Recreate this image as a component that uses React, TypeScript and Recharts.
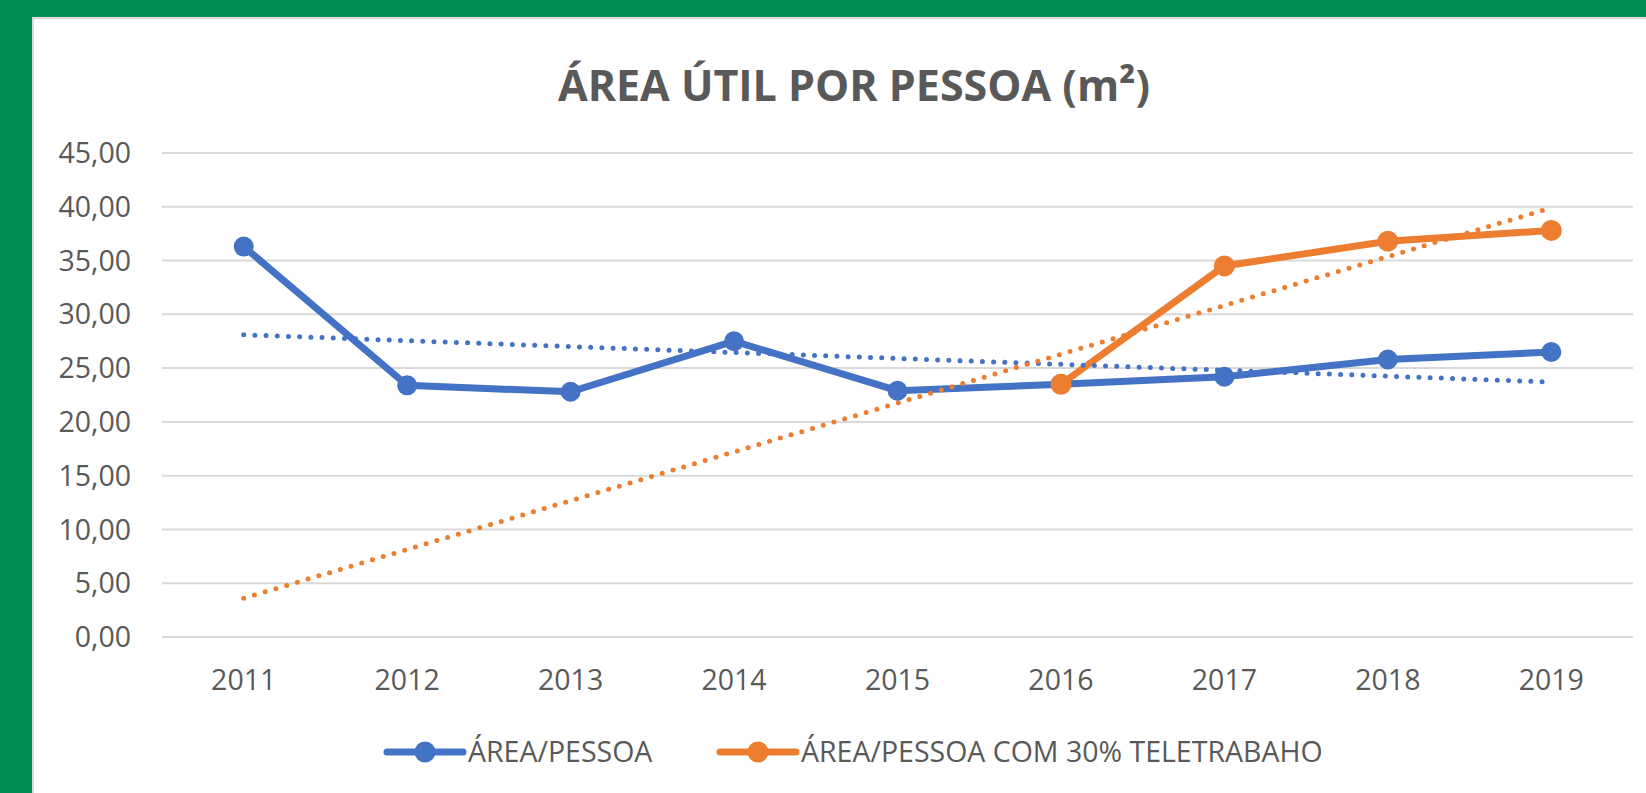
import { CartesianGrid, Line, LineChart, XAxis, YAxis } from "recharts";

const years = ["2011", "2012", "2013", "2014", "2015", "2016", "2017", "2018", "2019"];
const areaPessoa = [36.3, 23.4, 22.8, 27.5, 22.9, 23.5, 24.2, 25.8, 26.5];
const areaTeletrabalho = [null, null, null, null, null, 23.5, 34.5, 36.8, 37.8];
// linhas de tendência (Excel, linear): só os extremos, o resto fica nulo
const trendArea = [28.1, null, null, null, null, null, null, null, 23.7];
const trendTeletrabalho = [3.6, null, null, null, null, null, null, null, 39.9];
const yTicks = [0, 5, 10, 15, 20, 25, 30, 35, 40, 45];

const BLUE = "#4472C4";
const ORANGE = "#ED7D31";
const TEXT = "#595959";
const FONT = "'Open Sans', sans-serif";

const data = years.map((year, i) => ({
  year,
  area: areaPessoa[i],
  tele: areaTeletrabalho[i],
  trendArea: trendArea[i],
  trendTele: trendTeletrabalho[i],
}));

const fmt = (v: number) => v.toFixed(2).replace(".", ",");

function Marker(color: string, r: number) {
  return (props: any) => {
    const { cx, cy, index } = props;
    if (cx == null || cy == null) return <g key={index} />;
    return <circle key={index} cx={cx} cy={cy} r={r} fill={color} stroke="none" />;
  };
}

function LegendItem({ x, color, label }: { x: number; color: string; label: string }) {
  return (
    <g>
      <line x1={x} y1={752} x2={x + 76} y2={752} stroke={color} strokeWidth={7} strokeLinecap="round" />
      <circle cx={x + 38} cy={752} r={10.5} fill={color} />
      <text x={x + 81} y={762} fill={TEXT} fontSize={28.5} fontFamily={FONT}>
        {label}
      </text>
    </g>
  );
}

export default function App() {
  return (
    <div style={{ position: "fixed", left: 0, top: 0, width: 1646, height: 793, background: "#008D4F" }}>
      <div
        style={{
          position: "absolute",
          left: 32,
          top: 17,
          width: 1614,
          height: 776,
          background: "#fff",
          borderTop: "2px solid #d9d9d9",
          borderLeft: "2px solid #d9d9d9",
          boxSizing: "border-box",
        }}
      />
      <div style={{ position: "absolute", left: 0, top: 0 }}>
        <LineChart width={1646} height={793} data={data} margin={{ top: 153, right: 13, left: 0, bottom: 96 }}>
          <CartesianGrid vertical={false} stroke="#d9d9d9" strokeWidth={2} />
          <XAxis
            dataKey="year"
            height={60}
            axisLine={false}
            tickLine={false}
            tickSize={0}
            tickMargin={33}
            padding={{ left: 81.7, right: 81.7 }}
            tick={{ fill: TEXT, fontSize: 28.5, fontFamily: FONT }}
            interval={0}
          />
          <YAxis
            width={162}
            domain={[0, 45]}
            ticks={yTicks}
            axisLine={false}
            tickLine={false}
            tickSize={0}
            tickMargin={31}
            tickFormatter={fmt}
            tick={{ fill: TEXT, fontSize: 28.5, fontFamily: FONT }}
          />
          <Line
            dataKey="area"
            stroke={BLUE}
            strokeWidth={7}
            dot={Marker(BLUE, 10)}
            activeDot={false}
            isAnimationActive={false}
          />
          <Line
            dataKey="tele"
            stroke={ORANGE}
            strokeWidth={7}
            dot={Marker(ORANGE, 10.5)}
            activeDot={false}
            isAnimationActive={false}
          />
          <Line
            dataKey="trendArea"
            stroke={BLUE}
            strokeWidth={5}
            strokeDasharray="0 11.2"
            strokeLinecap="round"
            connectNulls
            dot={false}
            activeDot={false}
            isAnimationActive={false}
          />
          <Line
            dataKey="trendTele"
            stroke={ORANGE}
            strokeWidth={5}
            strokeDasharray="0 11.2"
            strokeLinecap="round"
            connectNulls
            dot={false}
            activeDot={false}
            isAnimationActive={false}
          />
        </LineChart>
      </div>
      <svg width={1646} height={793} style={{ position: "absolute", left: 0, top: 0, pointerEvents: "none" }}>
        <text x={854} y={101} textAnchor="middle" fill={TEXT} fontSize={43} fontWeight={700} fontFamily={FONT}>
          ÁREA ÚTIL POR PESSOA (m²)
        </text>
        <LegendItem x={387} color={BLUE} label="ÁREA/PESSOA" />
        <LegendItem x={720} color={ORANGE} label="ÁREA/PESSOA COM 30% TELETRABAHO" />
      </svg>
    </div>
  );
}
